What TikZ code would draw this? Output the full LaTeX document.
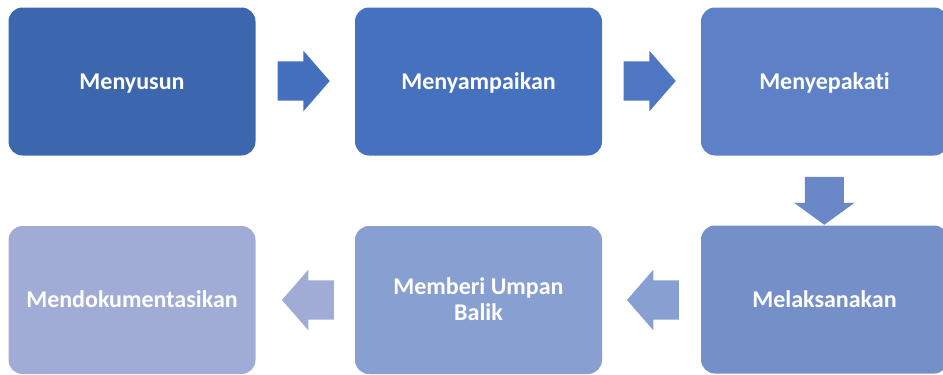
\documentclass[tikz,border=0pt]{standalone}
\usepackage{fontspec}
\setmainfont{Carlito}[Ligatures=NoCommon]
\usetikzlibrary{shapes.arrows}

\definecolor{boxA}{HTML}{3C67AE}
\definecolor{boxB}{HTML}{4671BE}
\definecolor{boxC}{HTML}{5E80C6}
\definecolor{boxD}{HTML}{7590C8}
\definecolor{boxE}{HTML}{889FD2}
\definecolor{boxF}{HTML}{A0ACD6}
\definecolor{arrA}{HTML}{4570BE}
\definecolor{arrB}{HTML}{4F76C3}
\definecolor{arrC}{HTML}{6A87C7}

\begin{document}
\begin{tikzpicture}[x=1pt,y=-1pt,
  box/.style={rectangle,rounded corners=14pt,minimum width=247pt,minimum height=148pt,
    inner sep=0pt,text=white,font=\fontsize{24}{26}\selectfont\bfseries,align=center,
    text height=15.6pt,text depth=0pt},
  blockarrow/.style={single arrow,single arrow head extend=10.7pt,single arrow tip angle=98,
    minimum height=52pt,inner xsep=0pt,inner ysep=19.35pt,anchor=tip}]
\useasboundingbox (0,0) rectangle (943,375);
% top row
\node[box,fill=boxA] (menyusun) at (132,81.5) {Menyusun};
\node[box,fill=boxB] (menyampaikan) at (478.5,81.5) {Menyampaikan};
\node[box,fill=boxC] (menyepakati) at (824.5,81.5) {Menyepakati};
% bottom row
\node[box,fill=boxD] (melaksanakan) at (824.5,299.5) {Melaksanakan};
\node[box,fill=boxE,text height=41.6pt] (umpanbalik) at (478.5,300) {Memberi Umpan\\Balik};
\node[box,fill=boxF] (dokumentasi) at (132,300) {Mendokumentasikan};
% arrows (placed by their tips)
\node[blockarrow,fill=arrA] (a1) at (330,81) {};
\node[blockarrow,fill=arrB] (a2) at (676,81) {};
\node[blockarrow,fill=arrC,rotate=-90,minimum height=48pt,single arrow tip angle=108] (a3) at (824.3,225) {};
\node[blockarrow,fill=boxE,rotate=180] (a4) at (626.7,300) {};
\node[blockarrow,fill=boxF,rotate=180] (a5) at (281.7,300) {};
\end{tikzpicture}
\end{document}
